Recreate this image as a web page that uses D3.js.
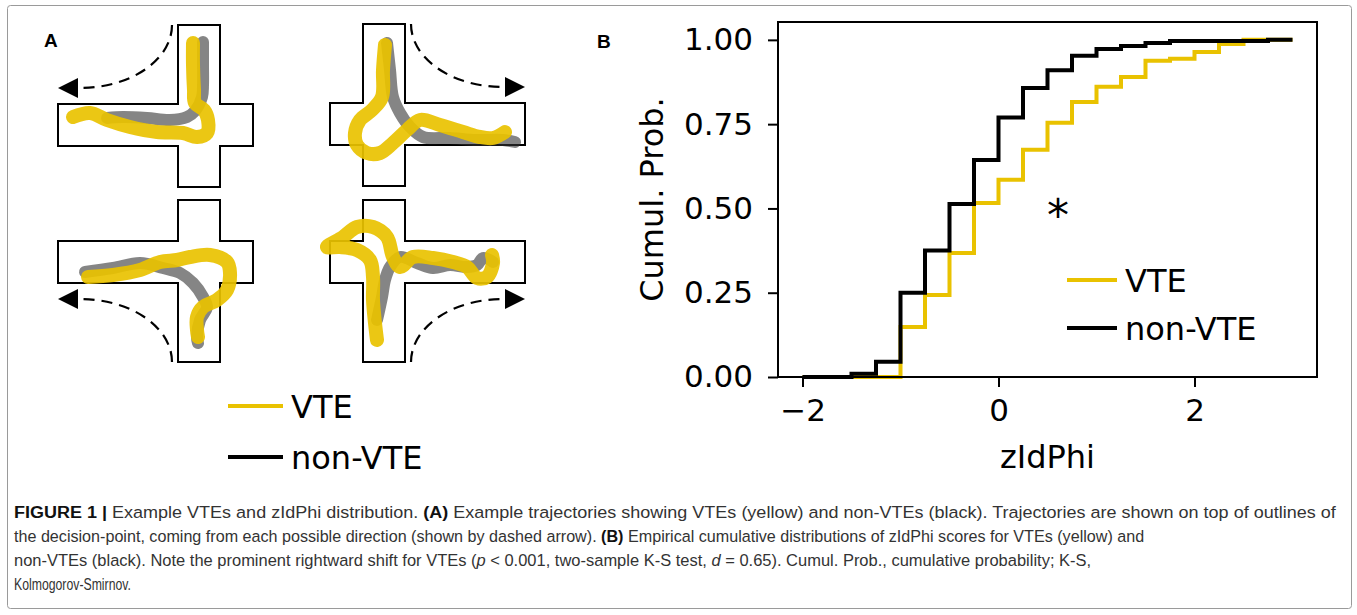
<!DOCTYPE html>
<html>
<head>
<meta charset="utf-8">
<script src="https://cdn.jsdelivr.net/npm/d3@7"></script>
<style>
  body { margin: 0; background: #fff; }
  svg { display: block; }
</style>
</head>
<body>
<div id="fig"></div>
<script>
// panel B: empirical CDF, one value per bin edge (step after)
const binEdges = [-2, -1.75, -1.5, -1.25, -1, -0.75, -0.5, -0.25, 0, 0.25, 0.5, 0.75, 1, 1.25, 1.5, 1.75, 2, 2.25, 2.5, 2.75, 3];
const vteCdf = [0, 0, 0, 0, 0.148, 0.243, 0.368, 0.516, 0.585, 0.674, 0.754, 0.816, 0.861, 0.89, 0.938, 0.944, 0.964, 0.988, 1, 1, 1];
const nonVteCdf = [0, 0, 0.01, 0.045, 0.25, 0.375, 0.513, 0.644, 0.77, 0.857, 0.91, 0.953, 0.973, 0.982, 0.991, 0.997, 0.997, 0.997, 0.997, 1, 1];
const xTicks = [-2, 0, 2];
const yTicks = [0, 0.25, 0.5, 0.75, 1];
const seriesNames = ['VTE', 'non-VTE'];

// panel A: trajectories, offsets from the centre of each maze (px)
const vteTrack1 = [[-6,-82],[-6,-60],[-5,-35],[-4,-22],[5,-15],[9,-5],[8,8],[-2,12],[-16,8],[-42,7],[-69,2],[-92,-5],[-109,-12],[-126,-8]];
const nonTrack1 = [[4,-83],[4,-60],[4,-40],[3,-28],[-4,-14],[-12,-8],[-29,-5],[-52,-7],[-76,-8],[-92,-7]];
const vteTrack2 = [[1,-79],[-1,-54],[-2,-27],[-12,-14],[-24,-4],[-29,9],[-27,21],[-17,29],[-4,29],[9,19],[23,6],[36,-4],[56,1],[79,8],[96,13],[109,14],[121,8]];
const nonTrack2 = [[3,-81],[6,-54],[9,-27],[16,-11],[26,3],[39,13],[66,14],[93,16],[119,16],[131,18]];
const vteTrack3 = [[-111,15],[-86,13],[-59,8],[-39,0],[-22,-2],[-9,-5],[11,-7],[28,0],[31,11],[28,28],[18,38],[4,45],[-2,55],[-2,68],[-1,75]];
const nonTrack3 = [[-114,10],[-86,6],[-59,1],[-36,6],[-19,11],[-6,21],[4,35],[8,45],[1,58],[-2,75],[-1,81]];
const vteTrack4 = [[-7,78],[-9,61],[-11,38],[-11,15],[-14,-2],[-27,-12],[-44,-15],[-57,-15],[-41,-25],[-27,-35],[-11,-35],[3,-25],[9,-5],[16,5],[29,-5],[49,-4],[69,0],[83,5],[93,16],[103,15],[109,1],[108,-7]];
const nonTrack4 = [[-7,58],[-2,35],[1,18],[6,5],[16,-5],[33,1],[49,6],[66,3],[83,5],[93,3],[99,-4],[109,0]];

// maze outline and exit arrow, drawn for the top-left maze and mirrored for the others
const mazeOutline = [[-21,-100],[21,-100],[21,-21],[54,-21],[54,21],[21,21],[21,62],[-21,62],[-21,21],[-141,21],[-141,-21],[-21,-21]];
const arcStart = [-27, -100], arcEnd = [-119, -37];
const arrowHead = [[-141,-37],[-121,-47],[-121,-27]];

const captionLines = [
  [['FIGURE 1 |', 'b'], [' Example VTEs and zIdPhi distribution. ', ''], ['(A)', 'b'], [' Example trajectories showing VTEs (yellow) and non-VTEs (black). Trajectories are shown on top of outlines of', '']],
  [['the decision-point, coming from each possible direction (shown by dashed arrow). ', ''], ['(B)', 'b'], [' Empirical cumulative distributions of zIdPhi scores for VTEs (yellow) and', '']],
  [['non-VTEs (black). Note the prominent rightward shift for VTEs (', ''], ['p', 'i'], [' < 0.001, two-sample K-S test, ', ''], ['d', 'i'], [' = 0.65). Cumul. Prob., cumulative probability; K-S,', '']],
  [['Kolmogorov-Smirnov.', '']]
];

const yellow = '#E9C200';
const W = 1357, H = 615;
const sans = 'DejaVu Sans, sans-serif';

const svg = d3.select('#fig').append('svg')
  .attr('width', W)
  .attr('height', H);

svg.append('rect')
  .attr('x', 7.5).attr('y', 5.5)
  .attr('width', 1344).attr('height', 603)
  .attr('rx', 3)
  .attr('fill', '#fff')
  .attr('stroke', '#9a9a9a')
  .attr('stroke-width', 1);

// ---------- panel A ----------
svg.append('text').attr('x', 44).attr('y', 47)
  .attr('font-family', 'Liberation Sans, Arial, sans-serif')
  .attr('font-weight', 'bold').attr('font-size', 19).text('A');

const mazes = [
  { cx: 199, cy: 125, fx: 1, fy: 1, vte: vteTrack1, non: nonTrack1 },
  { cx: 384, cy: 124, fx: -1, fy: 1, vte: vteTrack2, non: nonTrack2 },
  { cx: 199, cy: 262, fx: 1, fy: -1, vte: vteTrack3, non: nonTrack3 },
  { cx: 384, cy: 262, fx: -1, fy: -1, vte: vteTrack4, non: nonTrack4 }
];

const track = d3.line().curve(d3.curveCatmullRom.alpha(0.5));

mazes.forEach(q => {
  // mirrored scales for the maze, plain ones for the tracks
  const mx = d3.scaleLinear().domain([-1, 1]).range([q.cx - q.fx, q.cx + q.fx]);
  const my = d3.scaleLinear().domain([-1, 1]).range([q.cy - q.fy, q.cy + q.fy]);
  const tx = d3.scaleLinear().domain([-1, 1]).range([q.cx - 1, q.cx + 1]);
  const ty = d3.scaleLinear().domain([-1, 1]).range([q.cy - 1, q.cy + 1]);
  const g = svg.append('g');

  g.append('polygon')
    .attr('points', mazeOutline.map(p => [mx(p[0]), my(p[1])].join(',')).join(' '))
    .attr('fill', 'none').attr('stroke', '#000').attr('stroke-width', 2);

  const sweep = q.fx * q.fy > 0 ? 1 : 0;
  g.append('path')
    .attr('d', `M${mx(arcStart[0])},${my(arcStart[1])} A92,63 0 0 ${sweep} ${mx(arcEnd[0])},${my(arcEnd[1])}`)
    .attr('fill', 'none').attr('stroke', '#000').attr('stroke-width', 2.2)
    .attr('stroke-dasharray', '11,7');
  g.append('polygon')
    .attr('points', arrowHead.map(p => [mx(p[0]), my(p[1])].join(',')).join(' '))
    .attr('fill', '#000');

  g.append('path')
    .attr('d', track(q.non.map(p => [tx(p[0]), ty(p[1])])))
    .attr('fill', 'none').attr('stroke', '#333').attr('stroke-opacity', 0.6)
    .attr('stroke-width', 12).attr('stroke-linecap', 'round').attr('stroke-linejoin', 'round');
  g.append('path')
    .attr('d', track(q.vte.map(p => [tx(p[0]), ty(p[1])])))
    .attr('fill', 'none').attr('stroke', yellow).attr('stroke-opacity', 0.92)
    .attr('stroke-width', 14).attr('stroke-linecap', 'round').attr('stroke-linejoin', 'round');
});

function legend(x0, y0, gap, lineLen) {
  const lg = svg.append('g');
  seriesNames.forEach((name, i) => {
    const yy = y0 + i * gap;
    lg.append('line').attr('x1', x0).attr('x2', x0 + lineLen)
      .attr('y1', yy).attr('y2', yy)
      .attr('stroke', i === 0 ? yellow : '#000').attr('stroke-width', 4);
    lg.append('text').attr('x', x0 + lineLen + 8).attr('y', yy + 11.5)
      .attr('font-family', sans).attr('font-size', 32).text(name);
  });
}
legend(228, 406, 51, 55);

// ---------- panel B ----------
svg.append('text').attr('x', 597).attr('y', 48)
  .attr('font-family', 'Liberation Sans, Arial, sans-serif')
  .attr('font-weight', 'bold').attr('font-size', 19).text('B');

const x = d3.scaleLinear().domain([-2.25, 3.25]).range([778, 1317]);
const y = d3.scaleLinear().domain([0, 1.053]).range([377, 22]);

const step = d3.line()
  .x(d => x(d[0]))
  .y(d => y(d[1]))
  .curve(d3.curveStepAfter);

svg.append('path')
  .attr('d', step(binEdges.map((e, i) => [e, vteCdf[i]])))
  .attr('fill', 'none').attr('stroke', yellow).attr('stroke-width', 4);
svg.append('path')
  .attr('d', step(binEdges.map((e, i) => [e, nonVteCdf[i]])))
  .attr('fill', 'none').attr('stroke', '#000').attr('stroke-width', 4);

svg.append('rect')
  .attr('x', x.range()[0]).attr('y', y.range()[1])
  .attr('width', x.range()[1] - x.range()[0])
  .attr('height', y.range()[0] - y.range()[1])
  .attr('fill', 'none').attr('stroke', '#000').attr('stroke-width', 2);

const yAxis = svg.append('g')
  .attr('transform', `translate(${x.range()[0]},0)`)
  .call(d3.axisLeft(y).tickValues(yTicks).tickFormat(d3.format('.2f'))
    .tickSize(10).tickSizeOuter(0).tickPadding(15));
const xAxis = svg.append('g')
  .attr('transform', `translate(0,${y.range()[0]})`)
  .call(d3.axisBottom(x).tickValues(xTicks).tickFormat(d3.format('d'))
    .tickSize(10).tickSizeOuter(0).tickPadding(12));
[xAxis, yAxis].forEach(a => {
  a.select('.domain').remove();
  a.selectAll('line').attr('stroke-width', 2);
  a.selectAll('text').attr('font-family', sans).attr('font-size', 31).attr('fill', '#000');
});

svg.append('text')
  .attr('transform', `translate(663,${(y.range()[0] + y.range()[1]) / 2}) rotate(-90)`)
  .attr('text-anchor', 'middle')
  .attr('font-family', sans).attr('font-size', 32).text('Cumul. Prob.');
svg.append('text')
  .attr('x', (x.range()[0] + x.range()[1]) / 2).attr('y', 468)
  .attr('text-anchor', 'middle')
  .attr('font-family', sans).attr('font-size', 32).text('zIdPhi');

svg.append('text').attr('x', 1058).attr('y', 231)
  .attr('text-anchor', 'middle')
  .attr('font-family', sans).attr('font-size', 44).text('*');

legend(1067, 280, 48, 50);

// ---------- caption ----------
// condensed face is not installed, so squeeze each line to the reference width
const lineWidths = [1323, 1131, 1078, 117];
captionLines.forEach((parts, i) => {
  const t = svg.append('text')
    .attr('x', 0).attr('y', 0)
    .attr('font-family', 'Liberation Sans Narrow, Arial Narrow, Liberation Sans, sans-serif')
    .attr('font-size', 17).attr('fill', '#333')
    .attr('xml:space', 'preserve');
  parts.forEach(([s, style]) => {
    t.append('tspan')
      .attr('font-weight', style === 'b' ? 'bold' : null)
      .attr('font-style', style === 'i' ? 'italic' : null)
      .attr('fill', style === 'b' ? '#111' : null)
      .text(s);
  });
  const len = t.node().getComputedTextLength();
  t.attr('transform', `translate(14,${518 + i * 24}) scale(${lineWidths[i] / len},1)`);
});
</script>
</body>
</html>
